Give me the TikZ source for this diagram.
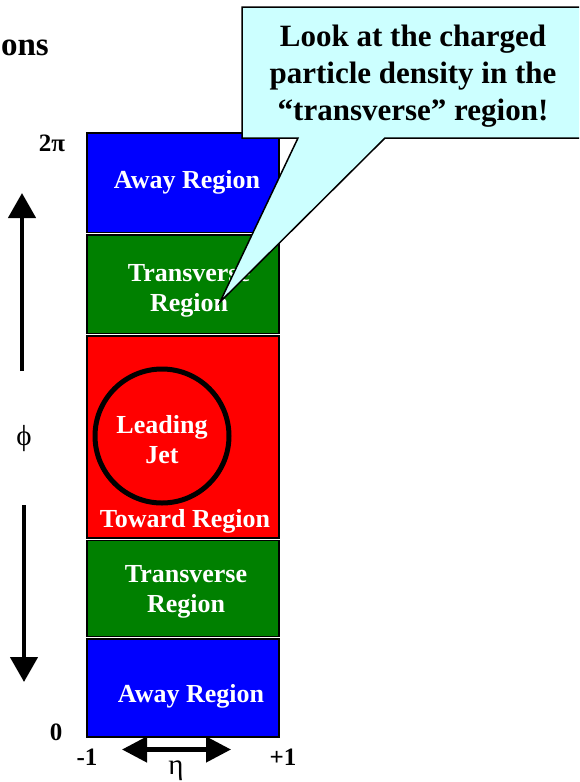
\documentclass[tikz,border=0pt]{standalone}
\usepackage{fontspec}
\setmainfont{Liberation Serif}
\usetikzlibrary{arrows.meta}

\definecolor{awayblue}{HTML}{0000FF}
\definecolor{transgreen}{HTML}{008000}
\definecolor{towardred}{HTML}{FF0000}
\definecolor{calloutcyan}{HTML}{CCFFFF}

\tikzset{
  region/.style={draw=black, line width=1.3pt},
  regiontext/.style={text=white, font=\bfseries\fontsize{26}{30}\selectfont, align=center, inner sep=0pt},
  axislabel/.style={font=\bfseries\fontsize{25}{28}\selectfont, inner sep=0pt},
  greeklabel/.style={font=\fontsize{29}{32}\selectfont, inner sep=0pt},
  axisarrow/.style={line width=4.5pt, -{Triangle[length=25pt,width=27pt]}},
  etaarrow/.style={line width=4.5pt, {Triangle[length=25pt,width=25pt]}-{Triangle[length=25pt,width=25pt]}},
}

\begin{document}
\begin{tikzpicture}[x=1pt, y=-1pt]
  \useasboundingbox (0,0) rectangle (579,782);
  \clip (0,0) rectangle (579,782);

  % slide title, running off the left edge
  \node[font=\bfseries\fontsize{33}{38}\selectfont, anchor=base east, inner sep=0pt] (title) at (49,55) {ons};

  % the eta-phi strip, split into its regions
  \path[region, fill=awayblue]   (87,133)   rectangle (279,232.5);
  \path[region, fill=transgreen] (87,235)   rectangle (279,333.5);
  \path[region, fill=towardred]  (87,336)   rectangle (279,538);
  \path[region, fill=transgreen] (87,540.5) rectangle (279,636.5);
  \path[region, fill=awayblue]   (87,639)   rectangle (279,737);

  \node[regiontext, anchor=base] (awaytop) at (187,188) {Away Region};
  \node[regiontext] (transtop) at (189,291) {Transverse\\Region};
  \node[regiontext, anchor=base] (toward) at (185,527) {Toward Region};
  \node[regiontext] (transbot) at (186,592) {Transverse\\Region};
  \node[regiontext, anchor=base] (awaybot) at (191,702) {Away Region};

  % leading jet
  \node[draw=black, line width=5pt, circle, minimum size=134pt, inner sep=0pt] (jetring) at (162,436) {};
  \node[regiontext] (jet) at (162,440) {Leading\\Jet};

  % speech bubble pointing into the upper transverse region
  \coordinate (tip) at (220,302);
  \draw[fill=calloutcyan, line width=1.5pt, line join=miter]
    (242,7) -- (600,7) -- (600,138) -- (385,138) -- (tip) -- (298,138) -- (242,138) -- cycle;
  \node[font=\bfseries\fontsize{31}{37}\selectfont, align=center, inner sep=0pt] (note) at (413,76.5)
    {Look at the charged\\particle density in the\\“transverse” region!};

  % axis labels
  \node[axislabel, anchor=base] (twopi) at (52,151) {2π};
  \node[axislabel, anchor=base] (zero) at (56,740) {0};
  \node[axislabel, anchor=base] (minusone) at (87,765) {-1};
  \node[axislabel, anchor=base] (plusone) at (283,765) {+1};
  \node[greeklabel] (phi) at (24,439) {ϕ};
  \node[greeklabel, anchor=base] (eta) at (176,774) {η};

  % axis arrows
  \coordinate (uptail) at (22,371);
  \coordinate (uphead) at (22,193);
  \coordinate (downtail) at (24,505);
  \coordinate (downhead) at (24,682);
  \coordinate (etaleft) at (122,749.5);
  \coordinate (etaright) at (231,749.5);
  \draw[axisarrow] (uptail) -- (uphead);
  \draw[axisarrow] (downtail) -- (downhead);
  \draw[etaarrow] (etaleft) -- (etaright);
\end{tikzpicture}
\end{document}
